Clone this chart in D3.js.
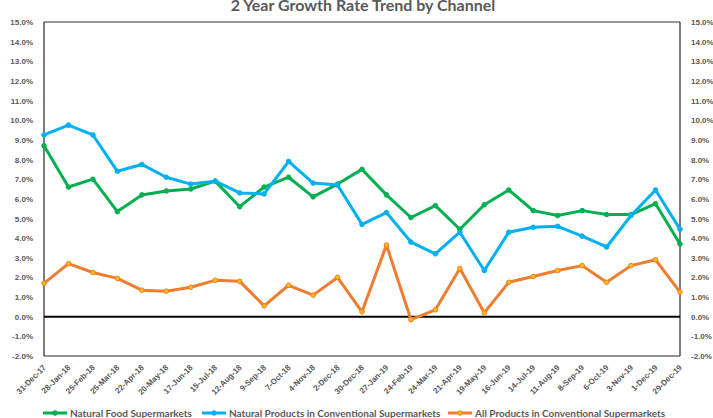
<!DOCTYPE html>
<html lang="en">
<head>
<meta charset="UTF-8">
<title>2 Year Growth Rate Trend by Channel</title>
<script src="https://d3js.org/d3.v7.min.js"></script>
<style>
    body { margin: 0; background: white; }
    #chart { display: block; font-family: Lato, "Open Sans", sans-serif; }
    .tick text { fill: #595959; font-size: 8px; font-weight: 700; }
    .legend text { fill: #595959; font-size: 10px; font-weight: 700; }
</style>
</head>
<body>
<svg id="chart" width="713" height="418"></svg>
<script>
    const periods = [
        '31-Dec-17', '28-Jan-18', '25-Feb-18', '25-Mar-18', '22-Apr-18', '20-May-18', '17-Jun-18',
        '15-Jul-18', '12-Aug-18', '9-Sep-18', '7-Oct-18', '4-Nov-18', '2-Dec-18', '30-Dec-18',
        '27-Jan-19', '24-Feb-19', '24-Mar-19', '21-Apr-19', '19-May-19', '16-Jun-19', '14-Jul-19',
        '11-Aug-19', '8-Sep-19', '6-Oct-19', '3-Nov-19', '1-Dec-19', '29-Dec-19'
    ];

    // growth rates in %
    const naturalFood = [
        8.7, 6.6, 7.0, 5.35, 6.2, 6.4, 6.5, 6.9, 5.6, 6.6, 7.1, 6.1, 6.75, 7.5,
        6.2, 5.05, 5.65, 4.45, 5.7, 6.45, 5.4, 5.15, 5.4, 5.2, 5.2, 5.75, 3.7
    ];
    const naturalConv = [
        9.25, 9.75, 9.25, 7.4, 7.75, 7.1, 6.75, 6.9, 6.3, 6.25, 7.9, 6.8, 6.7, 4.7,
        5.3, 3.8, 3.2, 4.3, 2.35, 4.3, 4.55, 4.6, 4.1, 3.55, 5.15, 6.45, 4.45
    ];
    const allConv = [
        1.7, 2.7, 2.25, 1.95, 1.35, 1.3, 1.5, 1.85, 1.8, 0.55, 1.6, 1.1, 2.0, 0.25,
        3.65, -0.15, 0.35, 2.45, 0.2, 1.75, 2.05, 2.35, 2.6, 1.75, 2.6, 2.9, 1.25
    ];

    const yTicks = [-2, -1, 0, 1, 2, 3, 4, 5, 6, 7, 8, 9, 10, 11, 12, 13, 14, 15];

    const series = [
        { name: 'Natural Food Supermarkets', values: naturalFood, color: '#00B050', fill: '#00B050' },
        { name: 'Natural Products in Conventional Supermarkets', values: naturalConv, color: '#00B0F0', fill: '#00B0F0' },
        { name: 'All Products in Conventional Supermarkets', values: allConv, color: '#ED7D31', fill: '#FFC000' }
    ];

    const svg = d3.select('#chart');
    const plotLeft = 44, plotRight = 680, plotTop = 22, plotBottom = 356;

    const x = d3.scalePoint().domain(periods).range([plotLeft, plotRight]);
    const y = d3.scaleLinear().domain([-2, 15]).range([plotBottom, plotTop]);
    const fmt = d => d3.format('.1%')(d / 100).replace('\u2212', '-');

    svg.append('text')
        .attr('x', 363)
        .attr('y', 11)
        .attr('text-anchor', 'middle')
        .attr('fill', '#595959')
        .style('font-size', '16px')
        .style('font-weight', 700)
        .text('2 Year Growth Rate Trend by Channel');

    // plot frame
    svg.append('line')
        .attr('x1', plotLeft).attr('x2', plotRight).attr('y1', plotTop).attr('y2', plotTop)
        .attr('stroke', '#767676').attr('stroke-width', 1.5);
    svg.append('line')
        .attr('x1', plotLeft).attr('x2', plotLeft).attr('y1', plotTop).attr('y2', plotBottom)
        .attr('stroke', '#262626').attr('stroke-width', 1.2);
    svg.append('line')
        .attr('x1', plotRight).attr('x2', plotRight).attr('y1', plotTop).attr('y2', plotBottom)
        .attr('stroke', '#262626').attr('stroke-width', 1.2);
    svg.append('line')
        .attr('x1', plotLeft).attr('x2', plotRight).attr('y1', plotBottom).attr('y2', plotBottom)
        .attr('stroke', '#262626').attr('stroke-width', 1.2);

    const yLeft = svg.append('g')
        .attr('transform', `translate(${plotLeft - 8},0)`)
        .call(d3.axisLeft(y).tickValues(yTicks).tickSize(0).tickFormat(fmt));
    yLeft.select('.domain').remove();

    const yRight = svg.append('g')
        .attr('transform', `translate(${plotRight + 8},0)`)
        .call(d3.axisRight(y).tickValues(yTicks).tickSize(0).tickFormat(fmt));
    yRight.select('.domain').remove();

    const xAxis = svg.append('g')
        .attr('transform', `translate(0,${plotBottom})`)
        .call(d3.axisBottom(x).tickSize(0));
    xAxis.select('.domain').remove();
    xAxis.selectAll('text')
        .attr('text-anchor', 'end')
        .attr('y', 0)
        .attr('dy', '0.35em')
        .attr('transform', 'translate(0,10) rotate(-45)');

    // zero line
    svg.append('line')
        .attr('x1', plotLeft).attr('x2', plotRight)
        .attr('y1', y(0)).attr('y2', y(0))
        .attr('stroke', '#000').attr('stroke-width', 2);

    const line = d3.line()
        .x((d, i) => x(periods[i]))
        .y(d => y(d));

    series.forEach(s => {
        svg.append('path')
            .datum(s.values)
            .attr('d', line)
            .attr('fill', 'none')
            .attr('stroke', s.color)
            .attr('stroke-width', 3)
            .attr('stroke-linejoin', 'round');

        svg.append('g').selectAll('circle')
            .data(s.values)
            .enter()
            .append('circle')
            .attr('cx', (d, i) => x(periods[i]))
            .attr('cy', d => y(d))
            .attr('r', 2.3)
            .attr('fill', s.fill)
            .attr('stroke', s.color)
            .attr('stroke-width', 1);
    });

    // legend
    const legendX = [43, 202, 448];
    const legend = svg.append('g').attr('class', 'legend');
    series.forEach((s, i) => {
        const g = legend.append('g').attr('transform', `translate(${legendX[i]},413)`);
        g.append('line')
            .attr('x1', 0).attr('x2', 24).attr('y1', 0).attr('y2', 0)
            .attr('stroke', s.color).attr('stroke-width', 3);
        g.append('circle')
            .attr('cx', 12).attr('cy', 0).attr('r', 2.3)
            .attr('fill', s.fill).attr('stroke', s.color).attr('stroke-width', 1);
        g.append('text')
            .attr('x', 27).attr('y', 0).attr('dy', '0.35em')
            .text(s.name);
    });
</script>
</body>
</html>
